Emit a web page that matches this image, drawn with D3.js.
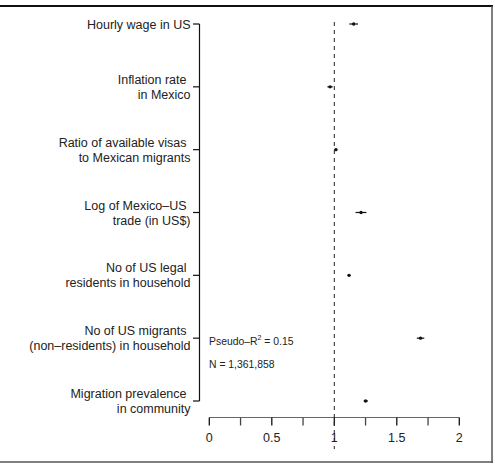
<!DOCTYPE html>
<html><head><meta charset="utf-8">
<script src="https://cdn.jsdelivr.net/npm/d3@7"></script>
<style>body{margin:0;background:#fff}svg{display:block}text{font-family:"Liberation Sans",Arial,sans-serif;fill:#222}</style>
</head><body><svg id="c" width="495" height="464"></svg>
<script>
const labels = [
  ["Hourly wage in US"],
  ["Inflation rate", "in Mexico"],
  ["Ratio of available visas", "to Mexican migrants"],
  ["Log of Mexico\u2013US", "trade (in US$)"],
  ["No of US legal", "residents in household"],
  ["No of US migrants", "(non\u2013residents) in household"],
  ["Migration prevalence", "in community"]
];
const estimates = [1.155, 0.966, 1.013, 1.214, 1.118, 1.69, 1.25];
const lower =     [1.12, 0.945, 1.003, 1.17, 1.108, 1.66, 1.235];
const upper =     [1.19, 0.987, 1.023, 1.257, 1.128, 1.72, 1.27];
const xTicks = [0, 0.25, 0.5, 0.75, 1, 1.25, 1.5, 1.75, 2];
const xTickLabels = [0, 0.5, 1, 1.5, 2];
const annotations = ["Pseudo\u2013R", "N = 1,361,858"];

const svg = d3.select("#c");
const x = d3.scaleLinear().domain([0, 2]).range([209.3, 459.3]);
const y = d3.scalePoint().domain(d3.range(labels.length)).range([24, 401]);

// frame
svg.append("line").attr("x1",0).attr("x2",493).attr("y1",6).attr("y2",6).attr("stroke","#111").attr("stroke-width",2);
svg.append("line").attr("x1",492).attr("x2",492).attr("y1",6).attr("y2",463).attr("stroke","#555").attr("stroke-width",1.5);
svg.append("line").attr("x1",0).attr("x2",493).attr("y1",462).attr("y2",462).attr("stroke","#555").attr("stroke-width",1.5);

// y axis
svg.append("line").attr("x1",199.5).attr("x2",199.5).attr("y1",y(0)).attr("y2",y(labels.length-1)).attr("stroke","#111").attr("stroke-width",1.2);
const g = svg.append("g");
labels.forEach((lab,i)=>{
  const yy = y(i);
  g.append("line").attr("x1",193).attr("x2",199.5).attr("y1",yy).attr("y2",yy).attr("stroke","#111").attr("stroke-width",1.2);
  if (lab.length === 1) {
    g.append("text").attr("x",190.5).attr("y",yy+4.5).attr("text-anchor","end").attr("font-size",12.5).text(lab[0]);
  } else {
    g.append("text").attr("x",186.5).attr("y",yy-3).attr("text-anchor","end").attr("font-size",12.5).text(lab[0]);
    g.append("text").attr("x",190.5).attr("y",yy+12).attr("text-anchor","end").attr("font-size",12.5).text(lab[1]);
  }
});

// x axis
const axY = 417.5;
svg.append("line").attr("x1",x(0)).attr("x2",x(2)).attr("y1",axY).attr("y2",axY).attr("stroke","#666").attr("stroke-width",1.2);
svg.selectAll(".xt").data(xTicks).enter().append("line")
  .attr("x1",d=>x(d)).attr("x2",d=>x(d)).attr("y1",axY).attr("y2",axY+8)
  .attr("stroke",d=>xTickLabels.includes(d)?"#111":"#444").attr("stroke-width",1.3);
svg.selectAll(".xl").data(xTickLabels).enter().append("text")
  .attr("x",d=>x(d)).attr("y",441.5).attr("text-anchor","middle").attr("font-size",12.5).text(d=>d);

// reference line
svg.append("line").attr("x1",x(1)).attr("x2",x(1)).attr("y1",22).attr("y2",449)
  .attr("stroke","#222").attr("stroke-width",1).attr("stroke-dasharray","4,4");

// CI and points
svg.selectAll(".ci").data(estimates).enter().append("line")
  .attr("x1",(d,i)=>x(lower[i])).attr("x2",(d,i)=>x(upper[i])).attr("y1",(d,i)=>y(i)).attr("y2",(d,i)=>y(i))
  .attr("stroke","#111").attr("stroke-width",1.2);
svg.selectAll(".pt").data(estimates).enter().append("circle")
  .attr("cx",d=>x(d)).attr("cy",(d,i)=>y(i)).attr("r",1.7).attr("fill","#111");

// annotations
const t1 = svg.append("text").attr("x",209).attr("y",344.5).attr("font-size",10.4);
t1.append("tspan").text(annotations[0]);
t1.append("tspan").attr("dy",-4.5).attr("font-size",7).text("2");
t1.append("tspan").attr("dy",4.5).text(" = 0.15");
svg.append("text").attr("x",209).attr("y",368).attr("font-size",10.4).text(annotations[1]);
</script></body></html>
